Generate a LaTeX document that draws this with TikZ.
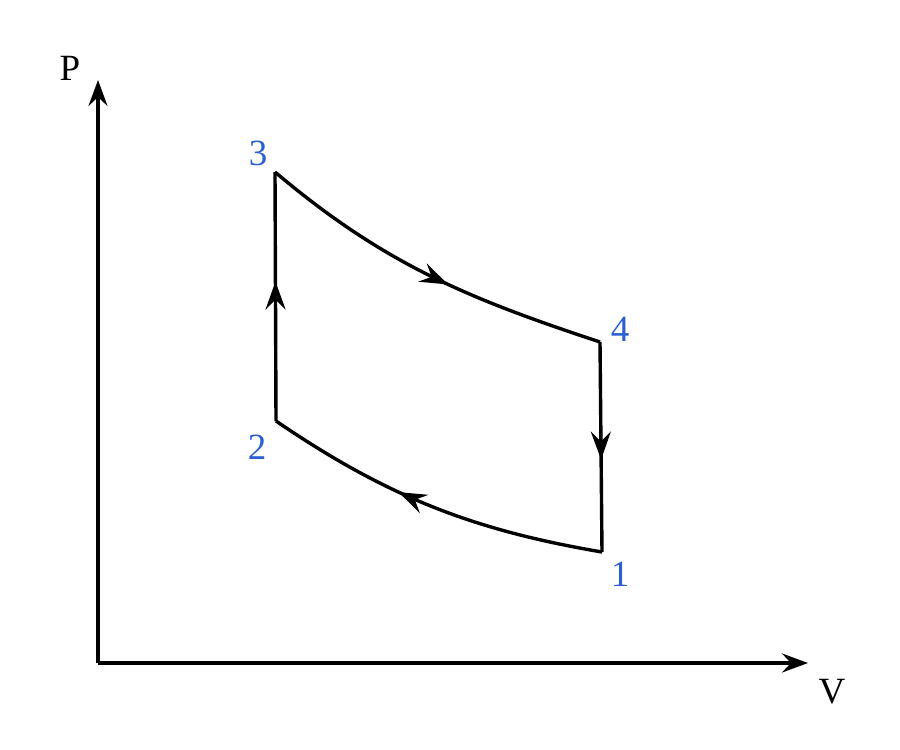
\documentclass[tikz,border=0pt]{standalone}
\usepackage{fontspec}
\setmainfont{Liberation Serif}
\usetikzlibrary{arrows.meta,decorations.markings}
\definecolor{labelblue}{RGB}{43,95,211}
\begin{document}
\begin{tikzpicture}[x=1pt,y=-1pt,
  curve/.style={line width=3.4pt,line join=miter},
  axis/.style={line width=3.4pt,-{Stealth[length=26pt,width=19pt,inset=9pt]}},
  midarrow/.style={postaction={decorate},decoration={markings,
    mark=at position #1 with {\arrow{Stealth[length=28pt,width=20pt,inset=10pt]}}}},
  statelabel/.style={text=labelblue,font=\fontsize{37}{42}\selectfont,inner sep=0pt},
  axislabel/.style={text=black,font=\fontsize{37}{42}\selectfont,inner sep=0pt}]
\useasboundingbox (0,0) rectangle (900,750);
% points
\coordinate (O) at (98,663);
\coordinate (Ptop) at (98,80);
\coordinate (Vend) at (808,663);
\coordinate (s3) at (275,172);
\coordinate (s4) at (600,342);
\coordinate (s1) at (602,552);
\coordinate (s2) at (276,421);
% axes
\draw[axis] (O) -- (Ptop);
\draw[axis] (O) -- (Vend);
% cycle
\draw[curve,midarrow=0.56] (s3) .. controls (385,265) and (470,299) .. (s4);
\draw[curve,midarrow=0.56] (s4) -- (s1);
\draw[curve,midarrow=0.6] (s1) .. controls (472,530) and (386,496) .. (s2);
\draw[curve,midarrow=0.56] (s2) -- (s3);
% labels
\node[statelabel] (l3) at (258,153) {3};
\node[statelabel] (l4) at (620,329) {4};
\node[statelabel] (l1) at (620,574) {1};
\node[statelabel] (l2) at (257,447) {2};
\node[axislabel] (lP) at (70,68) {P};
\node[axislabel] (lV) at (832,692) {V};
\end{tikzpicture}
\end{document}
